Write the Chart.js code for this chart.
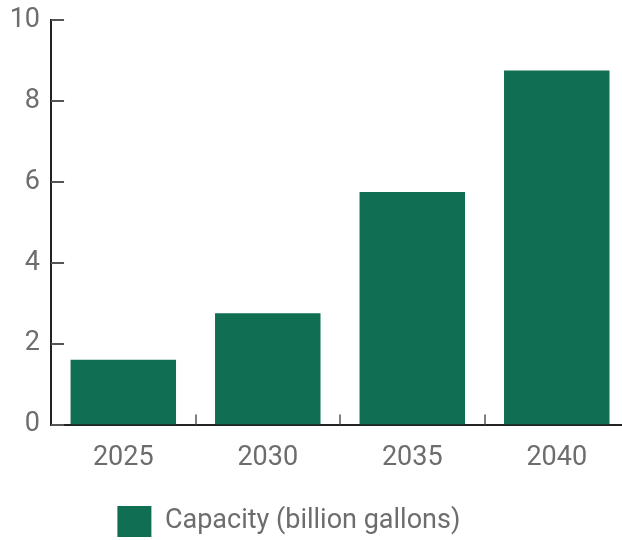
<!DOCTYPE html>
<html>
<head>
<meta charset="utf-8">
<script src="https://cdn.jsdelivr.net/npm/chart.js@4/dist/chart.umd.min.js"></script>
<style>
html,body{margin:0;padding:0;background:#fff;overflow:hidden;}
#wrap{width:632px;height:540px;}
</style>
</head>
<body>
<div id="wrap"><canvas id="c" width="632" height="540"></canvas></div>
<script>
const categories = ["2025", "2030", "2035", "2040"];
const capacity = [1.6, 2.75, 5.75, 8.75];
const seriesLabel = "Capacity (billion gallons)";
const yTicks = [0, 2, 4, 6, 8, 10];

const GREEN = "#106f52";
const TEXT = "#6d6d70";

const innerTicks = {
  id: "innerTicks",
  afterDatasetsDraw(chart) {
    const ctx = chart.ctx;
    const ys = chart.scales.y, xs = chart.scales.x;
    const area = chart.chartArea;
    ctx.save();
    ctx.strokeStyle = "#555";
    ctx.lineWidth = 2;
    yTicks.forEach(v => {
      const py = Math.round(ys.getPixelForValue(v));
      ctx.beginPath();
      ctx.moveTo(area.left, py);
      ctx.lineTo(area.left + 13, py);
      ctx.stroke();
    });
    ctx.lineWidth = 1.5;
    for (let i = 1; i < categories.length; i++) {
      const px = Math.round((xs.getPixelForValue(i - 1) + xs.getPixelForValue(i)) / 2);
      ctx.beginPath();
      ctx.moveTo(px, area.bottom);
      ctx.lineTo(px, area.bottom - 10);
      ctx.stroke();
    }
    ctx.restore();
  }
};

const legendShift = {
  id: "legendShift",
  afterLayout(chart) {
    const lg = chart.legend;
    lg.left -= 25; lg.right -= 25;
    lg.top += 7; lg.bottom += 7;
  }
};

new Chart(document.getElementById("c"), {
  type: "bar",
  data: {
    labels: categories,
    datasets: [{
      label: seriesLabel,
      data: capacity,
      backgroundColor: GREEN,
      borderWidth: 0,
      categoryPercentage: 1,
      barPercentage: 0.73
    }]
  },
  options: {
    responsive: false,
    animation: false,
    layout: { padding: { left: -1.3, right: 3, top: 0, bottom: 0 } },
    plugins: {
      tooltip: { enabled: false },
      legend: {
        position: "bottom",
        labels: {
          boxWidth: 34,
          boxHeight: 31,
          color: TEXT,
          font: { family: "Roboto", size: 27 },
          padding: 8
        }
      }
    },
    scales: {
      x: {
        grid: { display: false, drawTicks: false },
        border: { display: true, color: "#222", width: 2 },
        ticks: { color: TEXT, font: { family: "Roboto", size: 27 }, padding: 17 }
      },
      y: {
        min: 0, max: 10,
        afterBuildTicks(scale) { scale.ticks = yTicks.map(v => ({ value: v })); },
        grid: { display: false, drawTicks: false },
        border: { display: true, color: "#222", width: 2 },
        ticks: { color: TEXT, font: { family: "Roboto", size: 27, lineHeight: 0.667 }, padding: 11 }
      }
    }
  },
  plugins: [innerTicks, legendShift]
});
</script>
</body>
</html>
